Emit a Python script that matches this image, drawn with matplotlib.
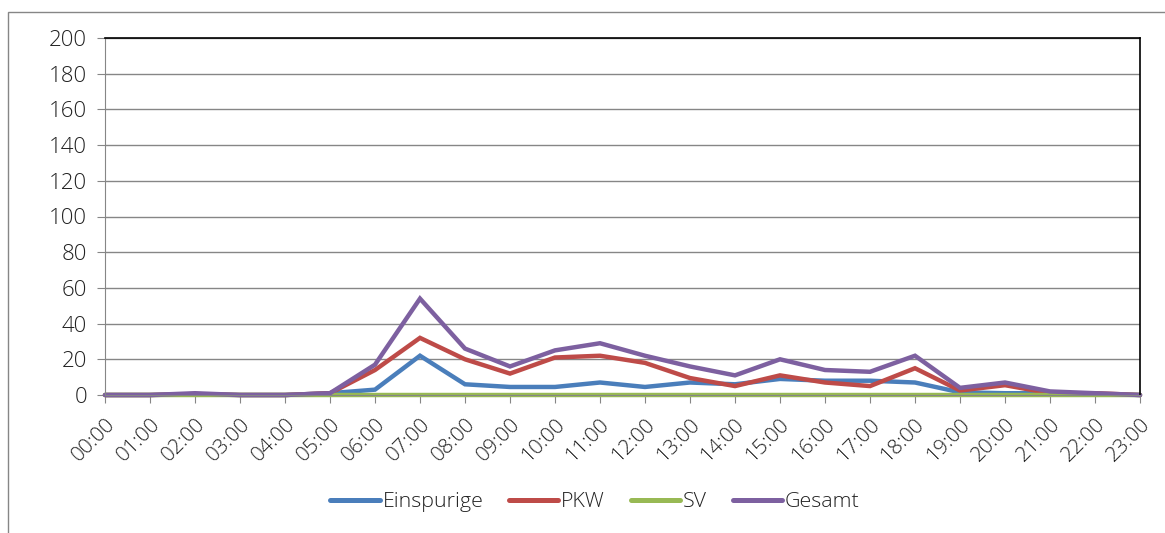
import matplotlib
matplotlib.use("Agg")
import matplotlib.pyplot as plt
from matplotlib.patches import Rectangle

hours = ["00:00", "01:00", "02:00", "03:00", "04:00", "05:00", "06:00", "07:00",
         "08:00", "09:00", "10:00", "11:00", "12:00", "13:00", "14:00", "15:00",
         "16:00", "17:00", "18:00", "19:00", "20:00", "21:00", "22:00", "23:00"]
einspurige = [0, 0, 0.5, 0, 0, 1, 3, 22, 6, 4.5, 4.5, 7, 4.5, 7, 6, 9, 8, 8, 7, 1.5, 1, 1, 0.5, 0]
pkw = [0, 0, 0.5, 0, 0, 1, 14, 32, 20, 12, 21, 22, 18, 9.5, 5, 11, 7, 5, 15, 2.5, 5.5, 1, 1, 0]
sv = [0] * 24
gesamt = [0, 0, 1, 0, 0, 1, 17, 54, 26, 16, 25, 29, 22, 16, 11, 20, 14, 13, 22, 4, 7, 2, 1, 0]
yticks = list(range(0, 201, 20))

series = [("Einspurige", einspurige, "#4A7EBB"),
          ("PKW", pkw, "#BE4B48"),
          ("SV", sv, "#98B954"),
          ("Gesamt", gesamt, "#7D60A0")]

plt.rcParams['font.family'] = ['Open Sans', 'DejaVu Sans']

fig = plt.figure(figsize=(11.65, 5.33), dpi=100)
fig.patches.append(Rectangle((8 / 1165, 1 - 600 / 533), 1.2, (600 - 12) / 533,
                             transform=fig.transFigure, fill=False,
                             edgecolor="#868686", linewidth=1.0))

ax = fig.add_axes([105 / 1165, 1 - 395 / 533, (1140 - 105) / 1165, (395 - 38) / 533])
x = list(range(len(hours)))
for name, vals, col in series:
    ax.plot(x, vals, color=col, linewidth=3.2, label=name, solid_capstyle='round',
            solid_joinstyle='miter', clip_on=False)

ax.set_xlim(0, len(hours) - 1)
ax.set_ylim(0, 200)
ax.set_yticks(yticks)
ax.set_xticks(x)
ax.set_xticklabels(hours, rotation=45, ha='right', rotation_mode='anchor')
ax.yaxis.grid(True, color="#868686", linewidth=1.0)
ax.set_axisbelow(True)
ax.tick_params(axis='both', direction='out', length=6, color="#868686",
               labelcolor="#222222")
ax.tick_params(axis='y', pad=7, labelsize=16)
ax.tick_params(axis='x', pad=8, labelsize=15)
for s in ['left', 'bottom']:
    ax.spines[s].set_color("#868686")
for s in ['top', 'right']:
    ax.spines[s].set_color("black")
    ax.spines[s].set_linewidth(1.2)

for lbl in ax.get_xticklabels() + ax.get_yticklabels():
    lbl.set_fontweight('light')

leg = fig.legend(loc='center', bbox_to_anchor=(595 / 1165, 1 - 502 / 533), ncol=4,
                 frameon=False, fontsize=15.4, handlelength=2.3, handletextpad=0.14,
                 columnspacing=1.2)
for t in leg.get_texts():
    t.set_fontweight('light')
    t.set_color("#222222")
for h in leg.legend_handles:
    h.set_linewidth(3.6)

fig.savefig("out.png", dpi=100)
